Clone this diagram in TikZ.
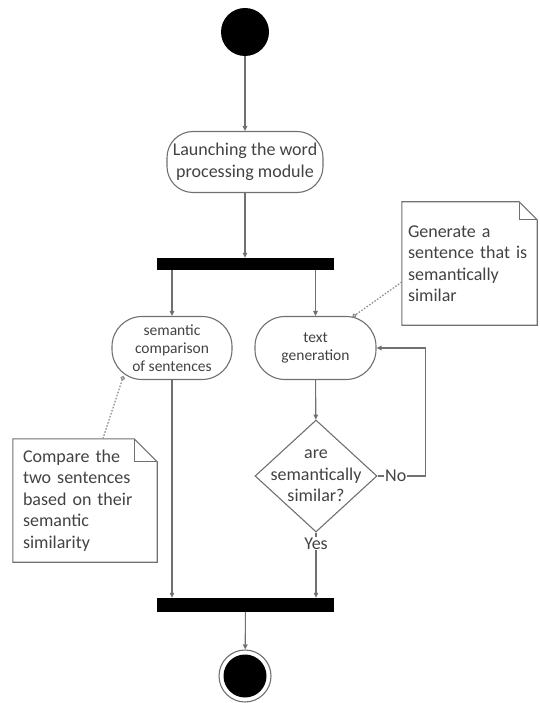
\documentclass[tikz,border=0pt]{standalone}
\usepackage{fontspec}
\setmainfont{Carlito}
\usetikzlibrary{arrows.meta,shapes.geometric,calc}
\definecolor{linegray}{HTML}{707070}
\definecolor{textgray}{HTML}{424242}
\begin{document}
\begin{tikzpicture}[x=1pt,y=-1pt,
  every node/.style={text=textgray},
  bigfont/.style={font=\fontsize{18}{21.5}\selectfont},
  smallfont/.style={font=\fontsize{15.5}{18}\selectfont},
  activity/.style={draw=linegray, line width=1.1pt, rounded corners=26pt,
    inner sep=0pt, align=center},
  syncbar/.style={fill=black, draw=none, minimum width=177pt, inner sep=0pt},
  decision/.style={diamond, draw=linegray, line width=1.1pt, inner sep=0pt,
    minimum width=122pt, minimum height=112pt},
  flow/.style={draw=linegray, line width=1.1pt, -{Triangle[length=5pt,width=4.5pt]}},
  plainline/.style={draw=linegray, line width=1.1pt},
  notebox/.style={bigfont, inner ysep=0pt, align=left, minimum height=123pt},
  noteline/.style={draw=linegray, line width=1.1pt},
  anchorline/.style={draw=linegray!80, line width=1.2pt, dash pattern=on 1.6pt off 1.6pt,
    -{Circle[open,length=4.5pt,width=4.5pt]}},
  flowlabel/.style={bigfont, fill=white, inner sep=1pt}
]
\useasboundingbox (0,0) rectangle (539,703);

% start and end states
\node[circle, fill=black, minimum size=48pt, inner sep=0pt] (start) at (245,32) {};
\node[circle, draw=linegray, line width=1.1pt, fill=white, minimum size=52pt, inner sep=0pt,
  path picture={\fill[black] (path picture bounding box.center) circle (21.5pt);}] (end) at (245,676) {};

% activities
\node[activity, bigfont, minimum width=156pt, minimum height=61pt] (launch) at (245,162)
  {Launching the word\\processing module};
\node[syncbar, minimum height=12pt] (fork) at (245.5,264) {};
\node[activity, smallfont, rounded corners=30pt, minimum width=120pt, minimum height=63pt] (compare) at (172,348)
  {semantic\\comparison\\of sentences};
\node[activity, smallfont, rounded corners=30pt, minimum width=121pt, minimum height=63pt] (gen) at (315.5,348)
  {text\\generation};
\node[decision] (decide) at (316,476) {};
\node[bigfont, align=center, inner sep=0pt] (decidetext) at (decide.center)
  {are\\semantically\\similar?};
\node[syncbar, minimum height=14pt] (join) at (245.5,605) {};

% control flow
\draw[flow] (start) -- (launch);
\draw[flow] (launch) -- (launch |- fork.north);
\draw[flow] (compare.north |- fork.south) -- (compare);
\draw[flow] (gen.north |- fork.south) -- (gen);
\draw[flow] (gen) -- (decide);
\coordinate (loopcorner) at ($(decide.east)+(48,0)$);
\draw[plainline] (decide.east) -- node[flowlabel, pos=0.38] {No} (loopcorner);
\draw[flow] (loopcorner) |- (gen.east);
\draw[flow] (decide.south) -- node[flowlabel, pos=0.17] {Yes} (decide.south |- join.north);
\draw[flow] (compare) -- (compare |- join.north);
\draw[flow] (join) -- (end);

% notes
\node[notebox, text width=124pt, inner xsep=10pt] (noteA) at (85,500.5)
  {Compare the\\two sentences\\based on their\\semantic\\similarity};
\draw[noteline] (noteA.north west) -- ($(noteA.north east)+(-23,0)$)
  -- ($(noteA.north east)+(0,23)$) -- (noteA.south east) -- (noteA.south west) -- cycle;
\draw[noteline] ($(noteA.north east)+(-23,0)$) -- ($(noteA.north east)+(-23,23)$)
  -- ($(noteA.north east)+(0,23)$);

\node[notebox, text width=123pt, inner xsep=6pt] (noteB) at (469.5,263.5)
  {Generate a\\sentence that is\\semantically\\similar};
\draw[noteline] (noteB.north west) -- ($(noteB.north east)+(-18,0)$)
  -- ($(noteB.north east)+(0,18)$) -- (noteB.south east) -- (noteB.south west) -- cycle;
\draw[noteline] ($(noteB.north east)+(-18,0)$) -- ($(noteB.north east)+(-18,18)$)
  -- ($(noteB.north east)+(0,18)$);

% note anchors
\coordinate (compareanchor) at ($(compare.south west)+(12,-4)$);
\coordinate (genanchor) at ($(gen.north east)+(-24,1)$);
\draw[anchorline] ($(noteA.north west)+(90,0)$) -- (compareanchor);
\draw[anchorline] ($(noteB.west)+(0,18.5)$) -- (genanchor);
\end{tikzpicture}
\end{document}
